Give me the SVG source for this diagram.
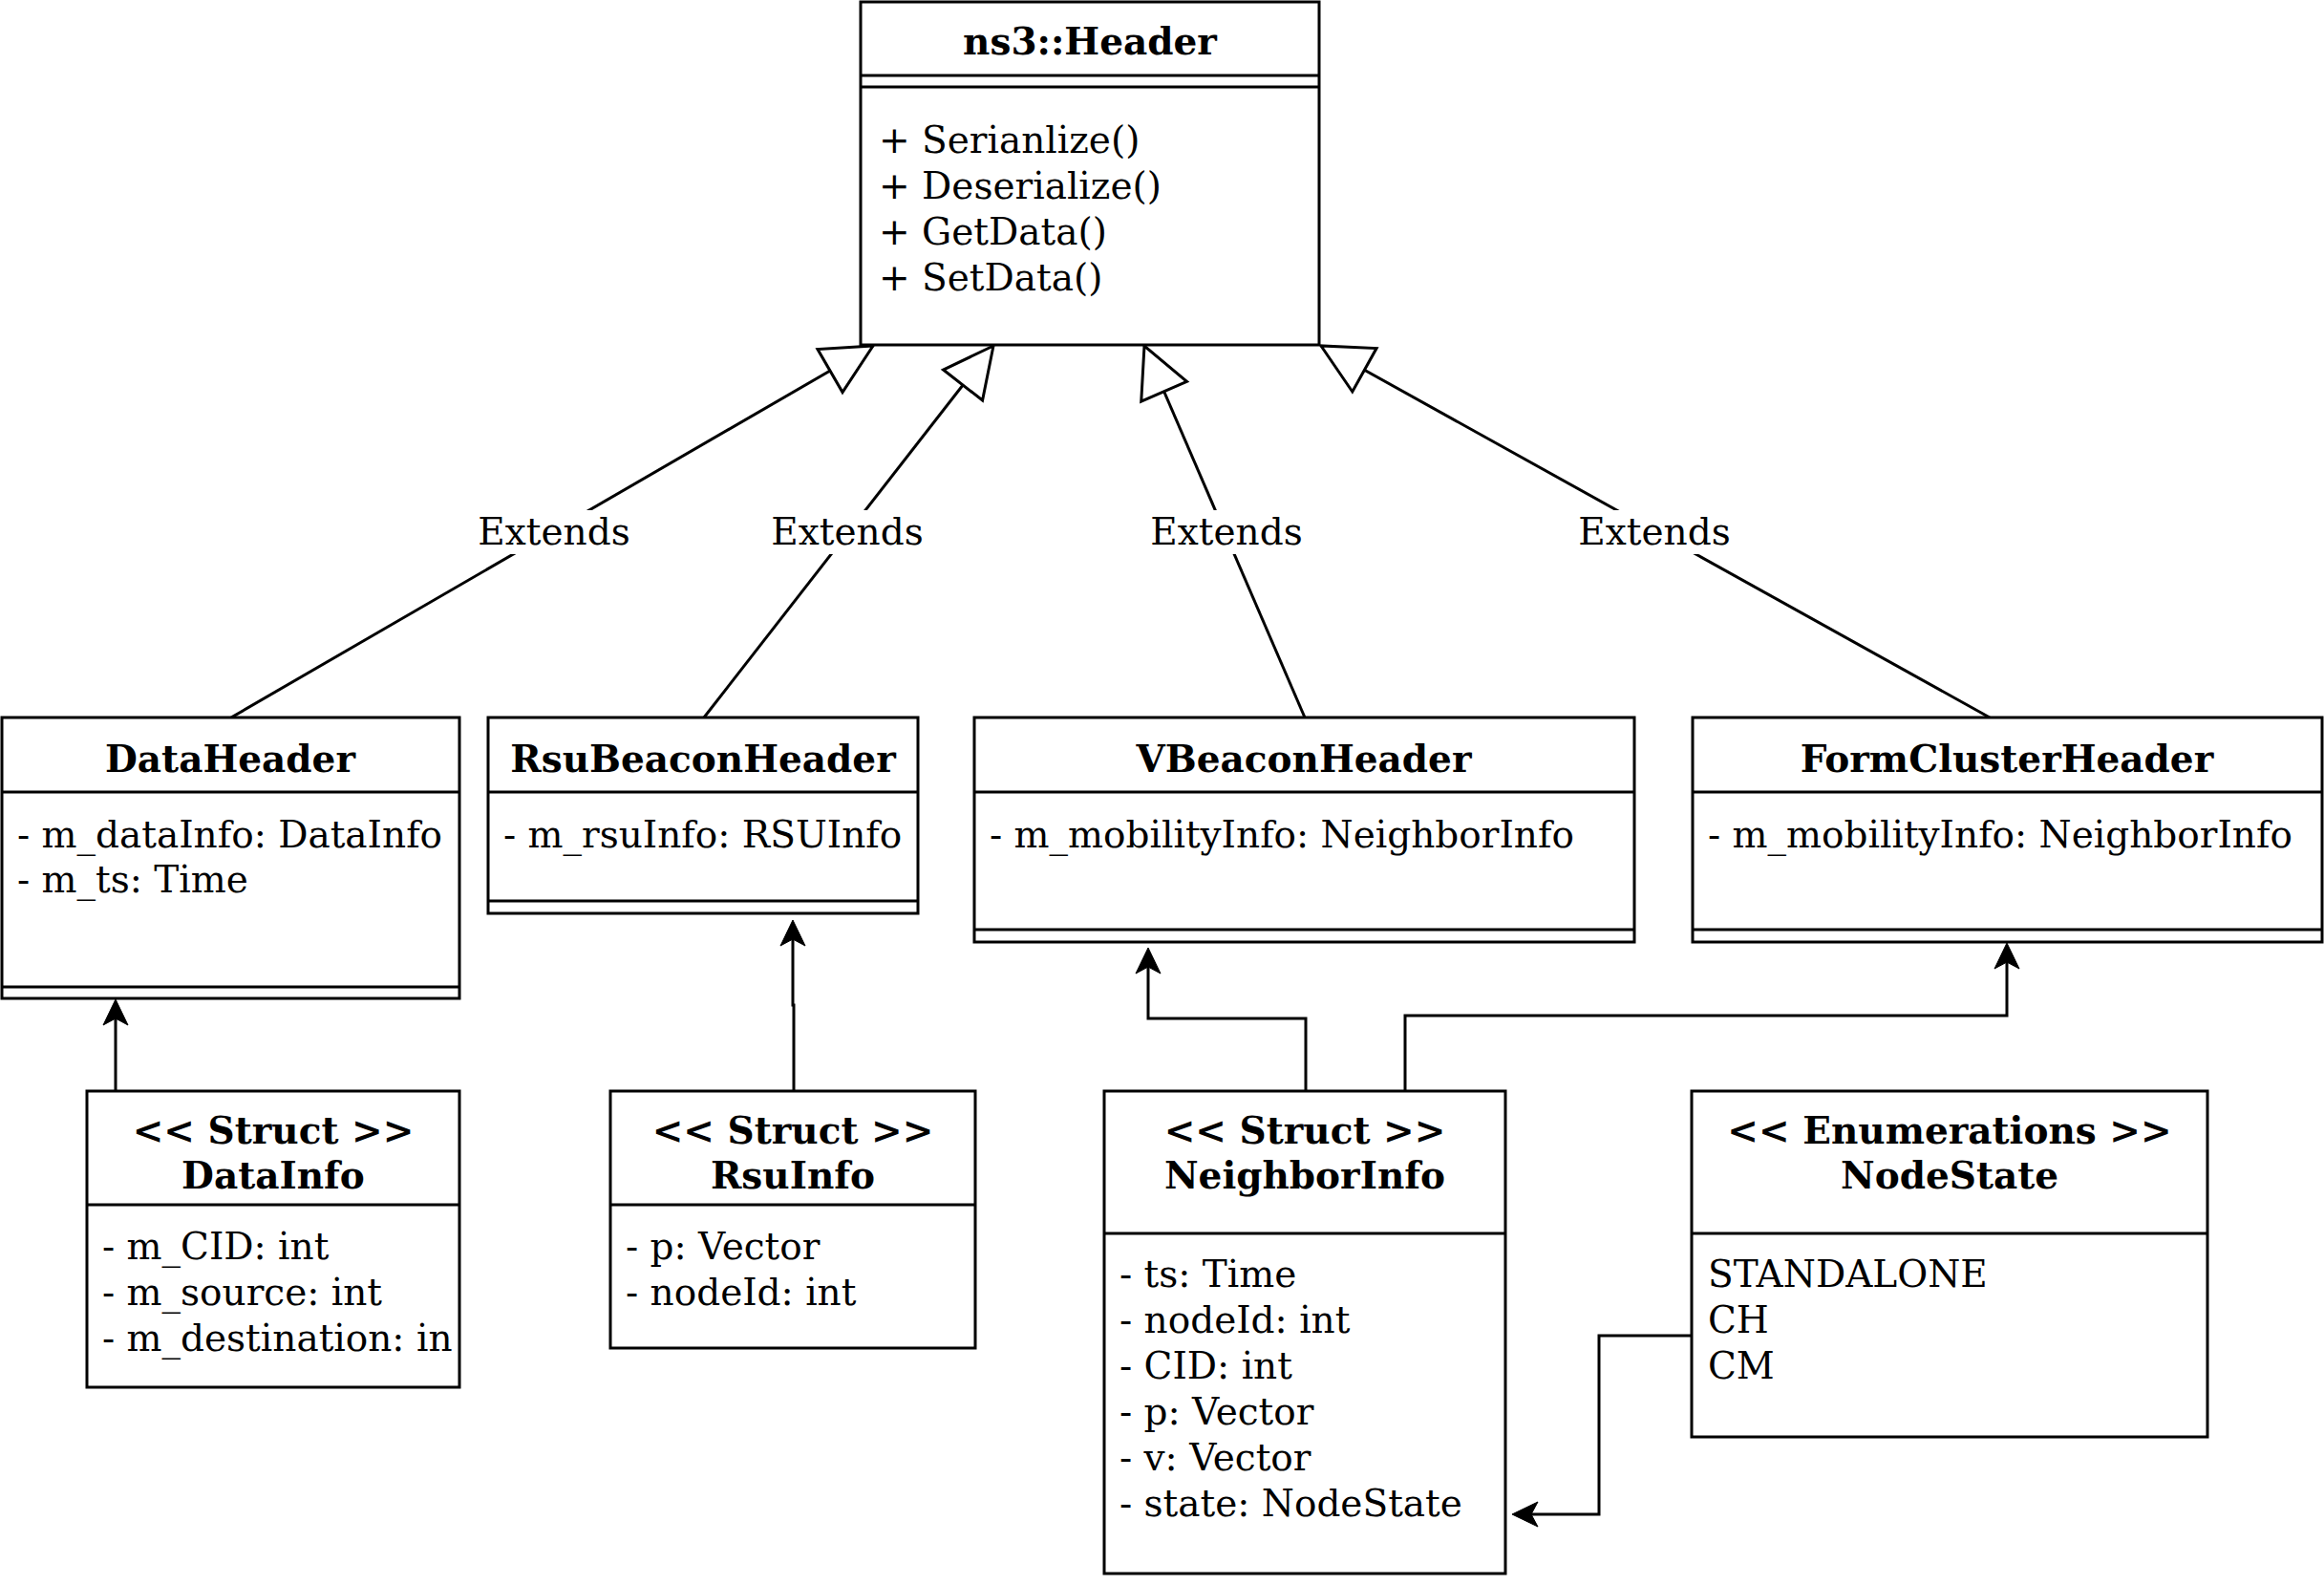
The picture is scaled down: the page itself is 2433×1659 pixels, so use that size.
<svg xmlns="http://www.w3.org/2000/svg" width="2433" height="1659" viewBox="0 0 2433 1659">
<style>
.box{fill:#fff;stroke:#000;stroke-width:3}
.ln{fill:none;stroke:#000;stroke-width:3}
text{font-family:"DejaVu Serif","Liberation Serif",serif;font-size:39px;fill:#000}
.t{font-weight:bold;text-anchor:middle}
.c{text-anchor:middle}
.lbl{fill:#fff;stroke:none}
</style>
<defs>
<marker id="gen" markerUnits="userSpaceOnUse" viewBox="-58 -32 64 64" markerWidth="64" markerHeight="64" refX="0" refY="0" orient="auto" overflow="visible">
<path d="M0,0 L-52,-26 L-52,26 Z" fill="#fff" stroke="#000" stroke-width="3"/>
</marker>
<marker id="arr" markerUnits="userSpaceOnUse" viewBox="-10 -16 34 32" markerWidth="34" markerHeight="32" refX="0" refY="0" orient="auto" overflow="visible">
<path d="M20,0 L-7,-13 L0,0 L-7,13 Z" fill="#000" stroke="#000" stroke-width="1"/>
</marker>
</defs>
<rect width="2433" height="1659" fill="#fff"/>

<g id="connectors">
<path class="ln" d="M242,751 L914,362" marker-end="url(#gen)"/>
<path class="ln" d="M737,751 L1040,362" marker-end="url(#gen)"/>
<path class="ln" d="M1366,751 L1198,362" marker-end="url(#gen)"/>
<path class="ln" d="M2083,751 L1383,362" marker-end="url(#gen)"/>
<rect class="lbl" x="500" y="534" width="160" height="46"/>
<text class="c" x="580" y="570">Extends</text>
<rect class="lbl" x="807" y="534" width="160" height="46"/>
<text class="c" x="887" y="570">Extends</text>
<rect class="lbl" x="1204" y="534" width="160" height="46"/>
<text class="c" x="1284" y="570">Extends</text>
<rect class="lbl" x="1652" y="534" width="160" height="46"/>
<text class="c" x="1732" y="570">Extends</text>
<path class="ln" d="M121,1142 V1066" marker-end="url(#arr)"/>
<path class="ln" d="M831,1142 V1052 H830 V983" marker-end="url(#arr)"/>
<path class="ln" d="M1367,1142 V1066 H1202 V1012" marker-end="url(#arr)"/>
<path class="ln" d="M1471,1142 V1063 H2101 V1007" marker-end="url(#arr)"/>
<path class="ln" d="M1771,1398 H1674 V1585 H1603" marker-end="url(#arr)"/>
</g>

<g id="ns3Header">
<rect class="box" x="901" y="2" width="480" height="359"/>
<line class="ln" x1="901" y1="79" x2="1381" y2="79"/>
<line class="ln" x1="901" y1="91" x2="1381" y2="91"/>
<text class="t" x="1141" y="57">ns3::Header</text>
<text x="920" y="160">+ Serianlize()</text>
<text x="920" y="208">+ Deserialize()</text>
<text x="920" y="256">+ GetData()</text>
<text x="920" y="304">+ SetData()</text>
</g>

<g id="DataHeader">
<rect class="box" x="2" y="751" width="479" height="294"/>
<line class="ln" x1="2" y1="829" x2="481" y2="829"/>
<line class="ln" x1="2" y1="1033" x2="481" y2="1033"/>
<text class="t" x="241" y="808">DataHeader</text>
<text x="18" y="887">- m_dataInfo: DataInfo</text>
<text x="18" y="934">- m_ts: Time</text>
</g>

<g id="RsuBeaconHeader">
<rect class="box" x="511" y="751" width="450" height="205"/>
<line class="ln" x1="511" y1="829" x2="961" y2="829"/>
<line class="ln" x1="511" y1="943" x2="961" y2="943"/>
<text class="t" x="736" y="808">RsuBeaconHeader</text>
<text x="527" y="887">- m_rsuInfo: RSUInfo</text>
</g>

<g id="VBeaconHeader">
<rect class="box" x="1020" y="751" width="691" height="235"/>
<line class="ln" x1="1020" y1="829" x2="1711" y2="829"/>
<line class="ln" x1="1020" y1="973" x2="1711" y2="973"/>
<text class="t" x="1365" y="808">VBeaconHeader</text>
<text x="1036" y="887">- m_mobilityInfo: NeighborInfo</text>
</g>

<g id="FormClusterHeader">
<rect class="box" x="1772" y="751" width="659" height="235"/>
<line class="ln" x1="1772" y1="829" x2="2431" y2="829"/>
<line class="ln" x1="1772" y1="973" x2="2431" y2="973"/>
<text class="t" x="2101" y="808">FormClusterHeader</text>
<text x="1788" y="887">- m_mobilityInfo: NeighborInfo</text>
</g>

<g id="DataInfo">
<rect class="box" x="91" y="1142" width="390" height="310"/>
<line class="ln" x1="91" y1="1261" x2="481" y2="1261"/>
<text class="t" x="286" y="1197">&lt;&lt; Struct &gt;&gt;</text>
<text class="t" x="286" y="1244">DataInfo</text>
<text x="107" y="1318">- m_CID: int</text>
<text x="107" y="1366">- m_source: int</text>
<text x="107" y="1414">- m_destination: in</text>
</g>

<g id="RsuInfo">
<rect class="box" x="639" y="1142" width="382" height="269"/>
<line class="ln" x1="639" y1="1261" x2="1021" y2="1261"/>
<text class="t" x="830" y="1197">&lt;&lt; Struct &gt;&gt;</text>
<text class="t" x="830" y="1244">RsuInfo</text>
<text x="655" y="1318">- p: Vector</text>
<text x="655" y="1366">- nodeId: int</text>
</g>

<g id="NeighborInfo">
<rect class="box" x="1156" y="1142" width="420" height="505"/>
<line class="ln" x1="1156" y1="1291" x2="1576" y2="1291"/>
<text class="t" x="1366" y="1197">&lt;&lt; Struct &gt;&gt;</text>
<text class="t" x="1366" y="1244">NeighborInfo</text>
<text x="1172" y="1347">- ts: Time</text>
<text x="1172" y="1395">- nodeId: int</text>
<text x="1172" y="1443">- CID: int</text>
<text x="1172" y="1491">- p: Vector</text>
<text x="1172" y="1539">- v: Vector</text>
<text x="1172" y="1587">- state: NodeState</text>
</g>

<g id="NodeState">
<rect class="box" x="1771" y="1142" width="540" height="362"/>
<line class="ln" x1="1771" y1="1291" x2="2311" y2="1291"/>
<text class="t" x="2041" y="1197">&lt;&lt; Enumerations &gt;&gt;</text>
<text class="t" x="2041" y="1244">NodeState</text>
<text x="1788" y="1347">STANDALONE</text>
<text x="1788" y="1395">CH</text>
<text x="1788" y="1443">CM</text>
</g>
</svg>
